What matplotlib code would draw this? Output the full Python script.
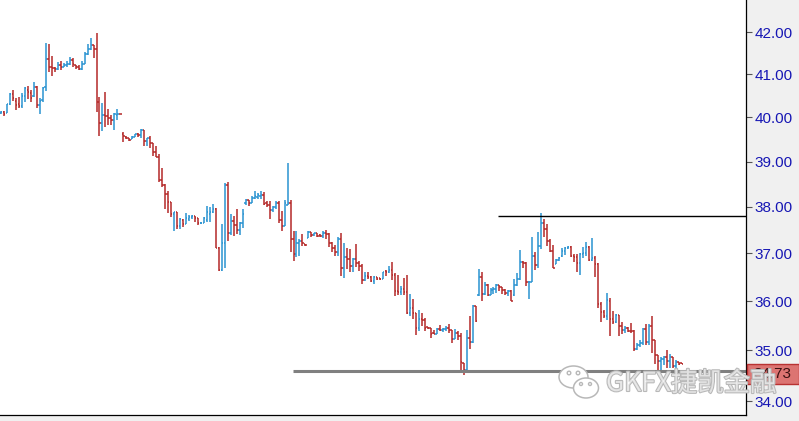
import matplotlib
matplotlib.use("Agg")
import matplotlib.pyplot as plt
import numpy as np
from matplotlib.collections import LineCollection
from matplotlib.patches import Rectangle, Ellipse
from matplotlib.ticker import FixedLocator, FuncFormatter, NullLocator
import matplotlib.patheffects as pe

# OHLC bars (oldest first)
opens = [40.10, 40.12, 40.10, 40.30, 40.53, 40.37, 40.30, 40.27, 40.48, 40.63,
         40.55, 40.50, 40.70, 40.28, 40.39, 40.70, 41.35, 41.18, 41.15, 41.12,
         41.22, 41.18, 41.21, 41.23, 41.33, 41.22, 41.16, 41.12, 41.25, 41.48,
         41.60, 41.70, 41.60, 40.36, 39.87, 40.06, 40.03, 39.98, 39.93, 40.05,
         40.08, 39.63, 39.56, 39.52, 39.50, 39.56, 39.62, 39.60, 39.70, 39.47,
         39.52, 39.41, 39.22, 39.10, 38.59, 38.48, 38.28, 38.10, 37.85, 37.88,
         37.58, 37.72, 37.63, 37.74, 37.77, 37.80, 37.75, 37.64, 37.66, 37.72,
         37.85, 37.88, 37.95, 37.11, 36.65, 37.23, 38.47, 37.44, 37.69, 37.61,
         37.50, 37.66, 38.08, 38.14, 38.09, 38.19, 38.22, 38.24, 38.27, 38.09,
         38.05, 37.93, 37.99, 38.09, 37.72, 37.59, 38.05, 38.08, 37.30, 36.98,
         37.22, 37.26, 37.20, 37.33, 37.45, 37.39, 37.43, 37.39, 37.37, 37.44,
         37.42, 37.23, 37.11, 37.02, 37.31, 36.70, 36.92, 36.88, 36.73, 36.88,
         36.79, 36.74, 36.45, 36.53, 36.50, 36.43, 36.51, 36.48, 36.47, 36.64,
         36.61, 36.66, 36.55, 36.22, 36.20, 36.26, 36.20, 35.76, 35.87, 35.76,
         35.46, 35.64, 35.61, 35.47, 35.45, 35.36, 35.34, 35.44, 35.41, 35.44,
         35.46, 35.42, 35.23, 35.36, 35.29, 34.74, 34.62, 35.25, 35.18, 35.91,
         36.12, 36.51, 36.15, 36.33, 36.14, 36.24, 36.26, 36.33, 36.29, 36.24,
         36.17, 36.22, 36.12, 36.33, 36.46, 36.81, 36.79, 36.39, 36.41, 36.95,
         36.75, 37.16, 37.64, 37.52, 37.27, 37.05, 36.78, 36.86, 36.94, 37.05,
         37.11, 37.14, 36.95, 36.93, 36.79, 36.98, 37.00, 37.14, 36.86, 36.90,
         36.77, 35.95, 35.77, 35.70, 36.00, 35.63, 35.58, 35.71, 35.50, 35.41,
         35.45, 35.40, 35.39, 35.03, 35.11, 35.16, 35.43, 35.18, 35.49, 35.21,
         34.91, 34.78, 34.83, 34.87, 34.78, 34.87, 34.69, 34.76, 34.74]
highs = [40.15, 40.15, 40.31, 40.55, 40.62, 40.45, 40.47, 40.55, 40.70, 40.72,
         40.63, 40.82, 40.72, 40.44, 40.70, 41.74, 41.71, 41.43, 41.18, 41.28,
         41.30, 41.26, 41.30, 41.40, 41.38, 41.22, 41.22, 41.31, 41.53, 41.71,
         41.86, 41.70, 41.98, 40.47, 40.32, 40.59, 40.18, 40.05, 40.09, 40.18,
         40.08, 39.66, 39.57, 39.53, 39.58, 39.63, 39.64, 39.73, 39.72, 39.53,
         39.58, 39.42, 39.35, 39.16, 38.85, 38.51, 38.34, 38.10, 37.89, 37.89,
         37.75, 37.73, 37.87, 37.82, 37.82, 37.81, 37.75, 37.68, 37.78, 38.01,
         37.99, 38.06, 37.97, 37.13, 37.63, 38.52, 38.54, 37.84, 37.81, 37.95,
         37.67, 37.95, 38.18, 38.15, 38.23, 38.35, 38.31, 38.35, 38.33, 38.13,
         38.13, 38.02, 38.13, 38.13, 37.91, 38.16, 38.96, 38.16, 37.48, 37.48,
         37.30, 37.41, 37.21, 37.48, 37.45, 37.44, 37.44, 37.41, 37.48, 37.50,
         37.44, 37.25, 37.17, 37.34, 37.44, 37.23, 37.12, 37.09, 36.91, 37.20,
         36.84, 36.77, 36.60, 36.61, 36.53, 36.53, 36.51, 36.49, 36.61, 36.65,
         36.74, 36.82, 36.58, 36.55, 36.32, 36.48, 36.54, 36.16, 36.05, 35.76,
         35.83, 35.75, 35.66, 35.48, 35.46, 35.42, 35.46, 35.51, 35.46, 35.49,
         35.54, 35.42, 35.44, 35.39, 35.35, 34.75, 35.42, 35.70, 35.93, 35.91,
         36.67, 36.61, 36.39, 36.35, 36.28, 36.30, 36.36, 36.33, 36.30, 36.26,
         36.24, 36.24, 36.46, 36.58, 37.08, 36.83, 36.81, 36.42, 37.34, 37.02,
         37.45, 37.86, 37.74, 37.63, 37.30, 37.18, 36.88, 36.92, 37.11, 37.13,
         37.16, 37.16, 36.99, 36.99, 37.00, 37.14, 37.25, 37.16, 37.33, 36.95,
         36.79, 35.98, 35.82, 36.18, 36.07, 35.80, 35.73, 35.71, 35.57, 35.49,
         35.47, 35.56, 35.42, 35.15, 35.22, 35.46, 35.54, 35.54, 35.70, 35.21,
         34.91, 34.86, 34.89, 35.01, 34.93, 34.87, 34.80, 34.77, 34.75]
lows = [40.07, 40.04, 40.09, 40.28, 40.38, 40.17, 40.21, 40.21, 40.36, 40.43,
        40.36, 40.47, 40.21, 40.07, 40.36, 40.61, 41.06, 40.96, 41.06, 41.10,
        41.10, 41.16, 41.18, 41.22, 41.18, 41.12, 41.10, 41.10, 41.23, 41.46,
        41.57, 41.39, 40.12, 39.57, 39.68, 39.79, 39.82, 39.82, 39.70, 39.94,
        40.07, 39.44, 39.50, 39.46, 39.50, 39.56, 39.56, 39.53, 39.35, 39.35,
        39.31, 39.12, 39.09, 38.54, 38.43, 37.95, 37.87, 37.78, 37.48, 37.52,
        37.52, 37.56, 37.62, 37.70, 37.73, 37.68, 37.61, 37.62, 37.66, 37.68,
        37.68, 37.87, 37.11, 36.63, 36.63, 36.70, 37.26, 37.39, 37.37, 37.42,
        37.39, 37.54, 38.04, 38.02, 38.08, 38.17, 38.18, 38.17, 38.05, 37.99,
        37.74, 37.88, 37.95, 37.66, 37.48, 37.58, 38.04, 37.03, 36.84, 36.92,
        36.94, 37.16, 37.16, 37.32, 37.36, 37.38, 37.34, 37.35, 37.33, 37.30,
        37.13, 37.02, 36.95, 36.95, 36.53, 36.49, 36.68, 36.60, 36.61, 36.72,
        36.63, 36.35, 36.43, 36.46, 36.39, 36.35, 36.44, 36.44, 36.46, 36.53,
        36.58, 36.45, 36.10, 36.12, 36.13, 36.13, 35.74, 35.69, 35.64, 35.32,
        35.39, 35.50, 35.39, 35.44, 35.25, 35.33, 35.33, 35.39, 35.37, 35.39,
        35.36, 35.15, 35.23, 35.21, 34.59, 34.52, 34.56, 35.03, 35.16, 35.57,
        36.10, 36.00, 36.12, 36.10, 36.13, 36.16, 36.18, 36.22, 36.16, 36.13,
        36.10, 36.00, 36.10, 36.31, 36.45, 36.69, 36.32, 36.04, 36.39, 36.65,
        36.70, 37.10, 37.34, 37.16, 37.02, 36.69, 36.77, 36.85, 36.93, 36.97,
        37.09, 36.92, 36.81, 36.60, 36.55, 36.90, 36.95, 36.83, 36.83, 36.51,
        35.87, 35.58, 35.66, 35.62, 35.29, 35.53, 35.56, 35.29, 35.33, 35.36,
        35.37, 35.36, 34.99, 35.00, 35.07, 35.10, 35.10, 35.10, 34.94, 34.72,
        34.60, 34.60, 34.70, 34.65, 34.66, 34.65, 34.66, 34.70, 34.72]
closes = [40.12, 40.08, 40.31, 40.53, 40.44, 40.29, 40.27, 40.48, 40.68, 40.58,
          40.45, 40.71, 40.28, 40.38, 40.68, 41.35, 41.18, 41.14, 41.12, 41.22,
          41.18, 41.22, 41.23, 41.34, 41.24, 41.16, 41.12, 41.25, 41.48, 41.60,
          41.70, 41.60, 40.36, 39.87, 40.05, 40.02, 39.98, 39.93, 40.07, 40.07,
          40.07, 39.57, 39.52, 39.49, 39.56, 39.61, 39.60, 39.70, 39.47, 39.52,
          39.41, 39.22, 39.10, 38.59, 38.48, 38.28, 38.10, 37.85, 37.88, 37.58,
          37.74, 37.63, 37.75, 37.79, 37.80, 37.75, 37.64, 37.66, 37.75, 37.88,
          37.88, 37.95, 37.11, 36.65, 37.23, 38.47, 37.44, 37.69, 37.61, 37.50,
          37.66, 37.84, 38.16, 38.09, 38.19, 38.23, 38.25, 38.27, 38.07, 38.05,
          37.93, 37.99, 38.09, 37.72, 37.59, 38.08, 38.08, 37.30, 36.98, 37.22,
          37.26, 37.22, 37.17, 37.45, 37.39, 37.43, 37.38, 37.37, 37.43, 37.42,
          37.23, 37.11, 37.02, 37.31, 36.70, 36.92, 36.88, 36.73, 36.88, 36.79,
          36.74, 36.45, 36.53, 36.50, 36.43, 36.51, 36.47, 36.47, 36.60, 36.61,
          36.66, 36.55, 36.21, 36.20, 36.26, 36.20, 35.76, 35.87, 35.76, 35.46,
          35.63, 35.61, 35.46, 35.45, 35.34, 35.34, 35.44, 35.42, 35.44, 35.46,
          35.42, 35.23, 35.36, 35.29, 34.76, 34.62, 35.25, 35.18, 35.91, 35.59,
          36.51, 36.15, 36.33, 36.14, 36.24, 36.26, 36.33, 36.29, 36.24, 36.17,
          36.22, 36.01, 36.33, 36.46, 36.81, 36.79, 36.39, 36.41, 36.95, 36.75,
          37.16, 37.64, 37.52, 37.27, 37.05, 36.70, 36.86, 36.90, 37.05, 37.11,
          37.14, 36.95, 36.93, 36.79, 36.99, 37.00, 37.14, 36.86, 36.90, 36.77,
          35.95, 35.77, 35.70, 36.02, 35.63, 35.58, 35.71, 35.50, 35.42, 35.45,
          35.40, 35.39, 35.03, 35.11, 35.16, 35.43, 35.18, 35.49, 35.21, 34.91,
          34.78, 34.83, 34.87, 34.78, 34.87, 34.69, 34.77, 34.73, 34.73]

resistance = 37.80
support = 34.59
resistance_from = 166.5   # bar index where the line starts
support_from = 97.8
yticks = [34, 35, 36, 37, 38, 39, 40, 41, 42]
last_label = "34.73"
watermark = "GKFX捷凯金融"

W, H = 799, 421
BLUE = "#2a93d1"
RED = "#b42828"

fig = plt.figure(figsize=(W / 100, H / 100), dpi=100, facecolor="#f0f0f0")
ax = fig.add_axes([0, 6 / H, 746 / W, 415 / H], facecolor="white")

n = len(closes)
xs = np.arange(n)
half = 0.45
segs, cols = [], []
for i in range(n):
    c = BLUE if closes[i] >= opens[i] else RED
    segs.append([(xs[i], lows[i]), (xs[i], highs[i])])
    segs.append([(xs[i] - half, opens[i]), (xs[i], opens[i])])
    segs.append([(xs[i], closes[i]), (xs[i] + half, closes[i])])
    cols += [c, c, c]
ax.add_collection(LineCollection(segs, colors=cols, linewidths=1.1,
                                 capstyle="butt"))

ax.set_yscale("log")
ax.set_ylim(33.73, 42.78)
ax.set_xlim(-0.335, 249.6)

ax.hlines(resistance, resistance_from, 249.6, colors="black", linewidth=1.0)
ax.hlines(support, support_from, 249.6, colors="#808080", linewidth=2.2)

ax.yaxis.tick_right()
ax.yaxis.set_major_locator(FixedLocator(yticks))
ax.yaxis.set_minor_locator(NullLocator())
ax.yaxis.set_major_formatter(FuncFormatter(lambda v, p: f"{v:.2f}"))
ax.tick_params(axis="y", which="major", length=4.5, width=0.8, color="#555555",
               pad=1.5, labelsize=11, labelcolor="#1616b4")
for lab in ax.get_yticklabels():
    lab.set_family("Liberation Sans")
ax.set_xticks([])
for s in ["top", "left"]:
    ax.spines[s].set_visible(False)
for s in ["right", "bottom"]:
    ax.spines[s].set_color("black")
    ax.spines[s].set_linewidth(0.9)

# last price box on the axis
fig.canvas.draw()
ytop = ax.transData.transform((0, closes[-1]))[1]
box = Rectangle((747 / W, (ytop - 20) / H), 52 / W, 20 / H,
                transform=fig.transFigure, facecolor="#dc7472",
                edgecolor="#b83232", linewidth=1.0, zorder=5)
fig.patches.append(box)
fig.text(753 / W, (ytop - 10) / H, last_label, fontsize=11,
         family="Liberation Sans", color="#3a1010", va="center", ha="left",
         zorder=6)

# watermark: wechat-like icon and hollow text
def px(x, y):
    return (x / W, 1 - y / H)

stroke = [pe.withStroke(linewidth=1.5, foreground="#b8b8b8")]
big = Ellipse(px(573.5, 377), 29 / W, 22 / H, transform=fig.transFigure,
              facecolor="white", edgecolor="#b8b8b8", linewidth=1.1, zorder=7)
small = Ellipse(px(586, 388), 25 / W, 20 / H, transform=fig.transFigure,
                facecolor="white", edgecolor="#b8b8b8", linewidth=1.1, zorder=8)
fig.patches.extend([big, small])
for (ex, ey, r, z) in [(569, 373, 1.8, 7.5), (578, 373, 1.8, 7.5),
                       (581, 384, 1.5, 8.5), (590, 384, 1.5, 8.5)]:
    fig.patches.append(Ellipse(px(ex, ey), 2 * r / W, 2 * r / H,
                               transform=fig.transFigure, facecolor="white",
                               edgecolor="#b8b8b8", linewidth=1.0, zorder=z))

fig.text(606 / W, 1 - 391 / H, watermark, fontsize=19,
         family=["Noto Sans CJK SC", "DejaVu Sans"], color=(1, 1, 1, 0.6),
         va="baseline", ha="left", path_effects=stroke, zorder=10)

fig.savefig("out.png", dpi=100, facecolor=fig.get_facecolor())
